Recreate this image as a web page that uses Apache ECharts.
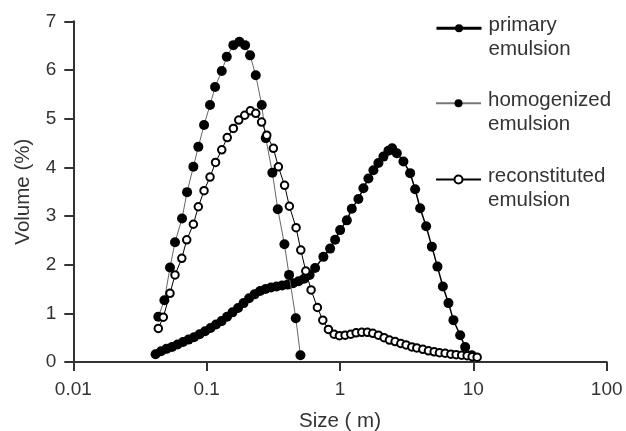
<!DOCTYPE html>
<html>
<head>
<meta charset="utf-8">
<script src="https://cdn.jsdelivr.net/npm/echarts@6/dist/echarts.min.js"></script>
<style>
html,body{margin:0;padding:0;background:#fff;}
#chart{width:626px;height:431px;}
</style>
</head>
<body>
<div id="chart"></div>
<script>
// Tick labels
const xTickLabels = ['0.01', '0.1', '1', '10', '100'];
const yTickLabels = ['0', '1', '2', '3', '4', '5', '6', '7'];
const seriesNames = ['primary\nemulsion', 'homogenized\nemulsion', 'reconstituted\nemulsion'];

// primary emulsion (broad, bimodal, filled)
const primarySize = [0.0414, 0.0455, 0.0500, 0.0550, 0.0605, 0.0665, 0.0731, 0.0804, 0.0885, 0.0973,
  0.107, 0.1176, 0.1294, 0.1422, 0.1564, 0.172, 0.1892, 0.208, 0.2288, 0.2516,
  0.2767, 0.3042, 0.3345, 0.3679, 0.4045, 0.4449, 0.4892, 0.5379, 0.5916, 0.6506,
  0.7507, 0.8431, 0.919, 1.002, 1.125, 1.226, 1.374, 1.498, 1.633, 1.781,
  1.941, 2.117, 2.307, 2.46, 2.668, 2.99, 3.357, 3.66, 3.989, 4.425,
  4.885, 5.379, 5.906, 6.506, 7.091, 7.962, 8.681, 9.743];
const primaryVolume = [0.16, 0.22, 0.27, 0.31, 0.36, 0.41, 0.46, 0.51, 0.57, 0.63,
  0.70, 0.77, 0.84, 0.93, 1.02, 1.11, 1.21, 1.31, 1.39, 1.46,
  1.50, 1.53, 1.55, 1.57, 1.59, 1.62, 1.66, 1.71, 1.79, 1.93,
  2.16, 2.33, 2.51, 2.71, 2.91, 3.15, 3.35, 3.57, 3.77, 3.94,
  4.09, 4.22, 4.34, 4.39, 4.29, 4.12, 3.88, 3.55, 3.16, 2.79,
  2.37, 1.96, 1.55, 1.21, 0.86, 0.55, 0.31, 0.14];

// homogenized emulsion (narrow peak, filled)
const homogenizedSize = [0.0434, 0.0482, 0.0531, 0.0579, 0.0654, 0.0713, 0.0795, 0.0866, 0.0956, 0.106,
  0.1156, 0.1298, 0.1415, 0.1586, 0.1759, 0.1941, 0.2117, 0.2335, 0.259, 0.2776,
  0.311, 0.3415, 0.383, 0.415, 0.466, 0.505];
const homogenizedVolume = [0.93, 1.27, 1.94, 2.46, 2.95, 3.49, 4.01, 4.42, 4.87, 5.28,
  5.65, 5.98, 6.27, 6.51, 6.58, 6.51, 6.30, 5.89, 5.28, 4.60,
  3.89, 3.14, 2.42, 1.79, 0.90, 0.14];

// reconstituted emulsion (open circles)
const reconstitutedSize = [0.0434, 0.0473, 0.0531, 0.0579, 0.0651, 0.0709, 0.0795, 0.0866, 0.0956, 0.106,
  0.1166, 0.1298, 0.1427, 0.1586, 0.1741, 0.1931, 0.2128, 0.2335, 0.2582, 0.2824,
  0.3165, 0.3451, 0.3841, 0.4173, 0.4685, 0.5081, 0.5539, 0.6071, 0.6769, 0.743,
  0.8185, 0.9032, 0.9897, 1.092, 1.205, 1.321, 1.457, 1.606, 1.762, 1.941,
  2.142, 2.348, 2.591, 2.858, 3.133, 3.456, 3.768, 4.181, 4.605, 5.082,
  5.568, 6.144, 6.783, 7.43, 8.173, 8.984, 9.795, 10.68];
const reconstitutedVolume = [0.69, 0.92, 1.41, 1.79, 2.13, 2.51, 2.83, 3.19, 3.52, 3.80,
  4.10, 4.36, 4.61, 4.80, 4.97, 5.07, 5.16, 5.11, 4.93, 4.66,
  4.39, 4.01, 3.63, 3.20, 2.76, 2.30, 1.87, 1.48, 1.12, 0.86,
  0.67, 0.57, 0.54, 0.55, 0.57, 0.60, 0.61, 0.61, 0.59, 0.55,
  0.50, 0.45, 0.42, 0.38, 0.35, 0.31, 0.29, 0.26, 0.23, 0.21,
  0.19, 0.18, 0.16, 0.15, 0.14, 0.13, 0.11, 0.10];

function pairs(xs, ys) { return xs.map((x, i) => [x, ys[i]]); }

const FONT = 'Liberation Sans, Arial, Helvetica, sans-serif';
const TXT = '#333';

const legendLines = [
  {width: 3, color: '#000'},
  {width: 2, color: '#777'},
  {width: 2, color: '#000'}
];
const legendTops = [0.7, 75.7, 152];

function makeLegend(i) {
  return {
    left: 435, top: legendTops[i], orient: 'vertical', padding: 0,
    itemWidth: 45, itemHeight: 10, selectedMode: false,
    formatter: name => '{s| }\n' + name.split('\n').map(t => '{a|' + t + '}').join('\n'),
    textStyle: {
      fontFamily: FONT, fontSize: 20.5, color: TXT, padding: [0, 0, 0, 2],
      rich: {
        s: {fontSize: 8, lineHeight: 18, fontFamily: FONT},
        a: {fontSize: 20.5, lineHeight: 23.5, color: TXT, fontFamily: FONT}
      }
    },
    data: [{name: seriesNames[i], lineStyle: legendLines[i]}]
  };
}

const chart = echarts.init(document.getElementById('chart'), null, {renderer: 'canvas'});
chart.setOption({
  backgroundColor: '#fff',
  animation: false,
  grid: {left: 73.3, right: 19.3, top: 21.3, bottom: 69, containLabel: false, outerBoundsMode: 'none'},
  legend: [makeLegend(0), makeLegend(1), makeLegend(2)],
  xAxis: {
    type: 'log', logBase: 10, min: 0.01, max: 100,
    name: 'Size ( m)', nameLocation: 'middle', nameGap: 49,
    nameTextStyle: {fontFamily: FONT, fontSize: 20.5, color: TXT},
    axisLine: {show: true, lineStyle: {color: '#333', width: 2}},
    axisTick: {show: true, inside: false, length: 9, lineStyle: {color: '#333', width: 2}},
    minorTick: {show: false},
    splitLine: {show: false},
    axisLabel: {fontFamily: FONT, fontSize: 19, color: TXT, margin: 18,
      formatter: (v, i) => xTickLabels[i]}
  },
  yAxis: {
    type: 'value', min: 0, max: 7, interval: 1,
    name: 'Volume (%)', nameLocation: 'middle', nameGap: 39, nameRotate: 90,
    nameTextStyle: {fontFamily: FONT, fontSize: 20.5, color: TXT},
    axisLine: {show: true, lineStyle: {color: '#333', width: 2}},
    axisTick: {show: true, inside: false, length: 9, lineStyle: {color: '#333', width: 2}},
    splitLine: {show: false},
    axisLabel: {fontFamily: FONT, fontSize: 19, color: TXT, margin: 17,
      formatter: (v, i) => yTickLabels[i]}
  },
  series: [
    {
      name: seriesNames[0], type: 'line', data: pairs(primarySize, primaryVolume),
      symbol: 'circle', symbolSize: 10, showAllSymbol: true,
      itemStyle: {color: '#000'}, lineStyle: {color: '#000', width: 1.5}, z: 2
    },
    {
      name: seriesNames[1], type: 'line', data: pairs(homogenizedSize, homogenizedVolume),
      symbol: 'circle', symbolSize: 10, showAllSymbol: true,
      itemStyle: {color: '#000'}, lineStyle: {color: '#666', width: 1}, z: 3
    },
    {
      name: seriesNames[2], type: 'line', data: pairs(reconstitutedSize, reconstitutedVolume),
      symbol: 'emptyCircle', symbolSize: 7.5, showAllSymbol: true,
      itemStyle: {color: '#000', borderWidth: 2}, lineStyle: {color: '#000', width: 1}, z: 4
    }
  ]
});
</script>
</body>
</html>
